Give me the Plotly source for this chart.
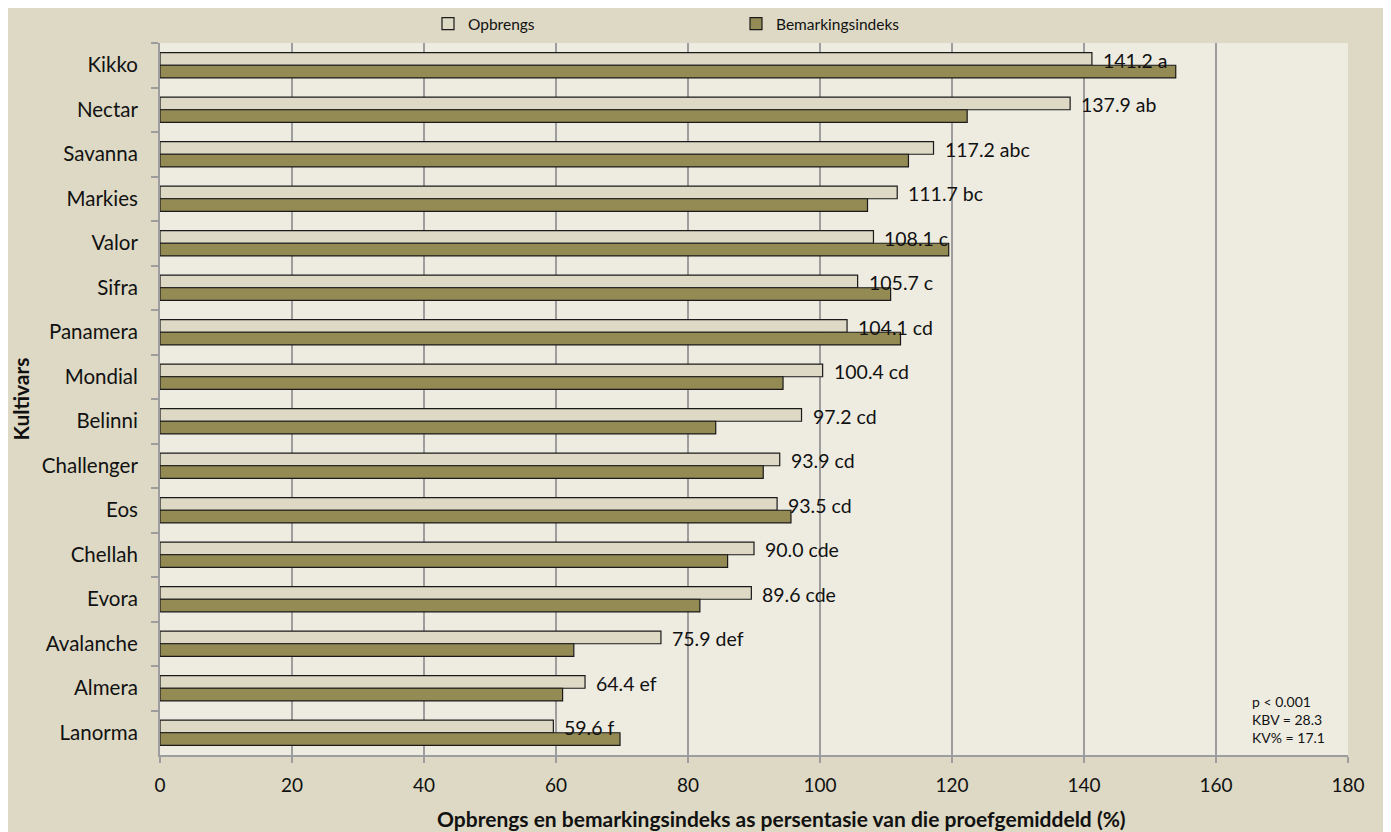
import plotly.graph_objects as go

cultivars = ["Kikko", "Nectar", "Savanna", "Markies", "Valor", "Sifra", "Panamera",
             "Mondial", "Belinni", "Challenger", "Eos", "Chellah", "Evora",
             "Avalanche", "Almera", "Lanorma"]
opbrengs = [141.2, 137.9, 117.2, 111.7, 108.1, 105.7, 104.1, 100.4, 97.2, 93.9,
            93.5, 90.0, 89.6, 75.9, 64.4, 59.6]
letters = ["a", "ab", "abc", "bc", "c", "c", "cd", "cd", "cd", "cd", "cd",
           "cde", "cde", "def", "ef", "f"]
bemarking = [153.9, 122.3, 113.4, 107.2, 119.5, 110.7, 112.2, 94.4, 84.2, 91.4,
             95.6, 86.0, 81.8, 62.7, 61.0, 69.7]
x_ticks = [0, 20, 40, 60, 80, 100, 120, 140, 160, 180]
stats_lines = ["p < 0.001", "KBV = 28.3", "KV% = 17.1"]
x_title = "Opbrengs en bemarkingsindeks as persentasie van die proefgemiddeld (%)"
y_title = "Kultivars"

FONT = "Lato"
# page offset of the plot div (default body margin)
OX, OY = 8, 8
W, H = 1391 - OX, 832 - OY
# plot area in page pixels
PX0, PX1, PY0, PY1 = 160, 1348, 43, 755
L, R = PX0 - OX, W - (PX1 - OX)
T, B = PY0 - OY, H - (PY1 - OY)
PW, PH = PX1 - PX0, PY1 - PY0

def px2paper_x(px):
    return (px - PX0) / PW

def px2paper_y(py):
    return (PY1 - py) / PH

fig = go.Figure()
fig.add_trace(go.Bar(
    name="Opbrengs", y=cultivars, x=opbrengs, orientation="h",
    marker=dict(color="#DDD9C4", line=dict(color="#1a1a1a", width=1.2)),
))
fig.add_trace(go.Bar(
    name="Bemarkingsindeks", y=cultivars, x=bemarking, orientation="h",
    marker=dict(color="#948A54", line=dict(color="#1a1a1a", width=1.2)),
))

annotations = []
for c, v, l in zip(cultivars, opbrengs, letters):
    annotations.append(dict(
        x=v, y=c, xref="x", yref="y", text=f"{v:.1f} {l}", showarrow=False,
        xanchor="left", yanchor="middle", xshift=9, yshift=5,
        font=dict(family=FONT, size=19.5, color="#111111"),
    ))
annotations.append(dict(
    x=px2paper_x(1250), y=px2paper_y(748), xref="paper", yref="paper",
    text="<br>".join(stats_lines), showarrow=False, align="left",
    xanchor="left", yanchor="bottom",
    font=dict(family=FONT, size=14, color="#111111"),
))
annotations.append(dict(
    x=px2paper_x(781), y=px2paper_y(818), xref="paper", yref="paper",
    text=f"<b>{x_title}</b>", showarrow=False, xanchor="center", yanchor="middle",
    font=dict(family=FONT, size=21, color="#111111"),
))

shapes = [
    dict(type="rect", xref="paper", yref="paper", layer="below",
         x0=px2paper_x(5), x1=px2paper_x(1386), y0=px2paper_y(850), y1=px2paper_y(6),
         fillcolor="#DDD9C4", line=dict(width=0)),
    dict(type="rect", xref="paper", yref="paper", layer="below",
         x0=0, x1=1, y0=0, y1=1, fillcolor="#EEECE1", line=dict(width=0)),
]

fig.update_layout(
    width=W, height=H,
    margin=dict(l=L, r=R, t=T, b=B, pad=0, autoexpand=False),
    paper_bgcolor="white", plot_bgcolor="rgba(0,0,0,0)",
    barmode="group", bargap=0.43, bargroupgap=0,
    font=dict(family=FONT, size=20, color="#111111"),
    legend=dict(orientation="h", x=px2paper_x(428), xanchor="left",
                y=px2paper_y(24), yanchor="middle",
                entrywidth=263, entrywidthmode="pixels",
                font=dict(family=FONT, size=15.5), bgcolor="rgba(0,0,0,0)"),
    annotations=annotations, shapes=shapes,
    xaxis=dict(range=[0, 180], tickvals=x_ticks, showgrid=True, automargin=False,
               gridcolor="#9D9D9D", gridwidth=1.5, showline=True,
               linecolor="#9D9D9D", linewidth=2, ticks="outside", ticklen=6,
               tickcolor="#9D9D9D", tickwidth=1.5, zeroline=False,
               ticklabelstandoff=6, tickfont=dict(size=19)),
    yaxis=dict(autorange="reversed", showgrid=False, showline=True, automargin=False,
               linecolor="#9D9D9D", linewidth=2, ticks="outside", ticklen=7,
               tickcolor="#9D9D9D", tickwidth=1.5, tickson="boundaries",
               ticklabelstandoff=16, tickfont=dict(size=20.5),
               title=dict(text=f"<b>{y_title}</b>", font=dict(family=FONT, size=21),
                          standoff=18)),
    showlegend=True,
)

fig.write_html("out.html")
